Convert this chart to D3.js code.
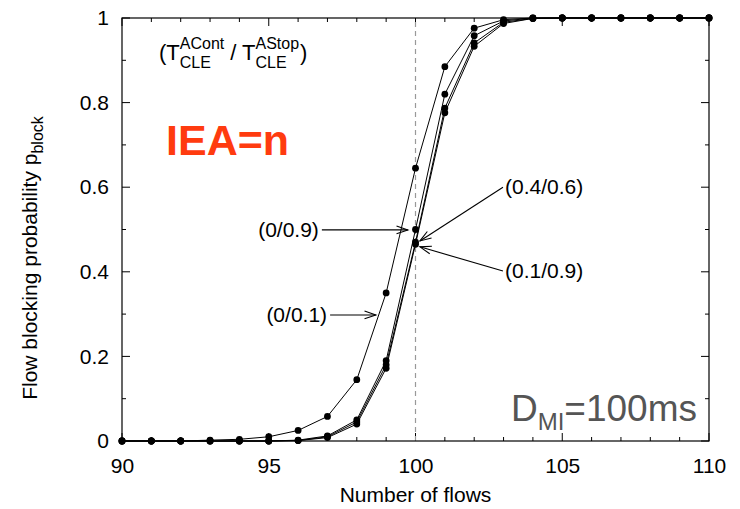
<!DOCTYPE html>
<html>
<head>
<meta charset="utf-8">
<script src="https://cdn.jsdelivr.net/npm/d3@7"></script>
<style>
  body { margin: 0; background: #fff; }
  svg { font-family: 'Liberation Sans', Arial, Helvetica, sans-serif; }
</style>
</head>
<body>
<div id="plot"></div>
<script>
'use strict';

const flows = [90, 91, 92, 93, 94, 95, 96, 97, 98, 99, 100, 101, 102, 103, 104, 105, 106, 107, 108, 109, 110]

const s01 = [0, 0, 0, 0.002, 0.004, 0.01, 0.025, 0.058, 0.145, 0.35, 0.645, 0.885, 0.976, 0.996, 1, 1, 1, 1, 1, 1, 1]
const s09 = [0, 0, 0, 0, 0, 0, 0.002, 0.012, 0.05, 0.19, 0.50, 0.82, 0.958, 0.993, 1, 1, 1, 1, 1, 1, 1]
const s46 = [0, 0, 0, 0, 0, 0, 0.001, 0.01, 0.045, 0.18, 0.47, 0.787, 0.941, 0.99, 0.999, 1, 1, 1, 1, 1, 1]
const s19 = [0, 0, 0, 0, 0, 0, 0.001, 0.008, 0.04, 0.172, 0.465, 0.776, 0.933, 0.987, 0.999, 1, 1, 1, 1, 1, 1]
let series = [s01, s09, s46, s19]

const xTicks = [90, 95, 100, 105, 110]
const yTicks = [0, 0.2, 0.4, 0.6, 0.8, 1]

// curve labels: text, arrow start (data units), arrow tip (data units)
const labels = ['(0/0.9)', '(0/0.1)', '(0.4/0.6)', '(0.1/0.9)']
const arrowFrom = [[96.81, 0.499], [97.09, 0.298], [102.98, 0.60], [102.98, 0.402]]
const arrowTo = [[99.74, 0.499], [98.65, 0.298], [100.15, 0.473], [100.15, 0.459]]
const anchors = ['end', 'end', 'start', 'start']

const width = 740, height = 509
const margin = {left: 122, right: 31, top: 18, bottom: 68}

let svg = d3.select('#plot').append('svg')
  .attr('width', width)
  .attr('height', height)

let x = d3.scaleLinear()
  .domain([90, 110])
  .range([margin.left, width - margin.right])
let y = d3.scaleLinear()
  .domain([0, 1])
  .range([height - margin.bottom, margin.top])

let x0 = margin.left, x1 = width - margin.right
let y0 = height - margin.bottom, y1 = margin.top

// inward ticks on all four sides
let tickG = svg.append('g').attr('stroke', '#000').attr('stroke-width', 1)
d3.range(90, 111, 1).forEach(function(v) {
  let len = v % 5 == 0 ? 8 : 4
  tickG.append('line').attr('x1', x(v)).attr('x2', x(v)).attr('y1', y0).attr('y2', y0 - len)
  tickG.append('line').attr('x1', x(v)).attr('x2', x(v)).attr('y1', y1).attr('y2', y1 + len)
})
d3.range(0, 11, 1).forEach(function(i) {
  let v = i / 10
  let len = i % 2 == 0 ? 8 : 4
  tickG.append('line').attr('y1', y(v)).attr('y2', y(v)).attr('x1', x0).attr('x2', x0 + len)
  tickG.append('line').attr('y1', y(v)).attr('y2', y(v)).attr('x1', x1).attr('x2', x1 - len)
})

// dashed reference line at 100 flows
svg.append('line')
  .attr('x1', x(100)).attr('x2', x(100))
  .attr('y1', y0).attr('y2', y1)
  .attr('stroke', '#999')
  .attr('stroke-width', 1.2)
  .attr('stroke-dasharray', '5,4')

// frame
svg.append('rect')
  .attr('x', x0).attr('y', y1)
  .attr('width', x1 - x0).attr('height', y0 - y1)
  .attr('fill', 'none')
  .attr('stroke', '#000')
  .attr('stroke-width', 1.2)

let xAxis = d3.axisBottom(x).tickValues(xTicks).tickSize(0).tickPadding(17)
svg.append('g')
  .attr('transform', `translate(0, ${y0})`)
  .call(xAxis)
  .call(g => g.select('.domain').remove())
  .selectAll('text')
  .attr('font-size', '21px')
  .attr('fill', '#000')
  .attr('font-family', null)

let yAxis = d3.axisLeft(y).tickValues(yTicks).tickSize(0).tickPadding(13).tickFormat(d3.format('~g'))
svg.append('g')
  .attr('transform', `translate(${x0}, 0)`)
  .call(yAxis)
  .call(g => g.select('.domain').remove())
  .selectAll('text')
  .attr('font-size', '21px')
  .attr('fill', '#000')
  .attr('font-family', null)

// curves
let line = d3.line()
  .x((d, i) => x(flows[i]))
  .y(d => y(d))
series.forEach(function(s) {
  svg.append('path')
    .attr('d', line(s))
    .attr('fill', 'none')
    .attr('stroke', '#000')
    .attr('stroke-width', 1)
  svg.append('g')
    .selectAll('circle')
    .data(s)
    .enter()
    .append('circle')
    .attr('cx', (d, i) => x(flows[i]))
    .attr('cy', d => y(d))
    .attr('r', 3.4)
    .attr('fill', '#000')
})

// axis titles
svg.append('text')
  .attr('x', (x0 + x1) / 2)
  .attr('y', 502)
  .attr('text-anchor', 'middle')
  .attr('font-size', '21px')
  .text('Number of flows')

let ylab = svg.append('text')
  .attr('transform', `translate(37, 258) rotate(-90)`)
  .attr('text-anchor', 'middle')
  .attr('font-size', '21px')
ylab.append('tspan').text('Flow blocking probability p')
ylab.append('tspan').attr('font-size', '16px').attr('dy', 6).text('block')

// (T^ACont_CLE / T^AStop_CLE) legend title, pieces placed side by side
let tg = svg.append('g').attr('font-size', '22px').style('white-space', 'pre')
let tx = 159, ty = 60
let piece = function(txt, px, py, size) {
  let el = tg.append('text').attr('x', px).attr('y', py).text(txt)
  if (size) el.attr('font-size', size)
  return el.node().getComputedTextLength()
}
let w = piece('(T', tx, ty)
let sx = tx + w
let wa = piece('ACont', sx, ty - 11, '16px')
let wb = piece('CLE', sx, ty + 8, '16px')
let nx = sx + Math.max(wa, wb) + 6
w = piece('/ T', nx, ty)
sx = nx + w
wa = piece('AStop', sx, ty - 11, '16px')
wb = piece('CLE', sx, ty + 8, '16px')
piece(')', sx + Math.max(wa, wb) + 1, ty)

svg.append('text')
  .attr('x', 166)
  .attr('y', 155)
  .attr('font-size', '43px')
  .attr('font-weight', 'bold')
  .attr('fill', '#ff3b0f')
  .text('IEA=n')

let dmi = svg.append('text')
  .attr('x', 697)
  .attr('y', 421)
  .attr('text-anchor', 'end')
  .attr('font-size', '37px')
  .attr('fill', '#555')
dmi.append('tspan').text('D')
dmi.append('tspan').attr('font-size', '24px').attr('dy', 9).text('MI')
dmi.append('tspan').attr('dy', -9).text('=100ms')

// curve labels with arrows
labels.forEach(function(lab, i) {
  let lx = x(arrowFrom[i][0]), ly = y(arrowFrom[i][1])
  let ax = x(arrowTo[i][0]), ay = y(arrowTo[i][1])
  svg.append('text')
    .attr('x', anchors[i] == 'end' ? lx - 3 : lx + 2)
    .attr('y', ly + 7)
    .attr('text-anchor', anchors[i])
    .attr('font-size', '21px')
    .text(lab)
  svg.append('line')
    .attr('x1', lx).attr('y1', ly)
    .attr('x2', ax).attr('y2', ay)
    .attr('stroke', '#000')
    .attr('stroke-width', 1.1)
  let ang = Math.atan2(ay - ly, ax - lx)
  let hl = 12, spread = 0.33
  let p1 = [ax - hl * Math.cos(ang - spread), ay - hl * Math.sin(ang - spread)]
  let p2 = [ax - hl * Math.cos(ang + spread), ay - hl * Math.sin(ang + spread)]
  svg.append('path')
    .attr('d', `M${p1[0]},${p1[1]}L${ax},${ay}L${p2[0]},${p2[1]}`)
    .attr('fill', 'none')
    .attr('stroke', '#000')
    .attr('stroke-width', 1.1)
})
</script>
</body>
</html>
